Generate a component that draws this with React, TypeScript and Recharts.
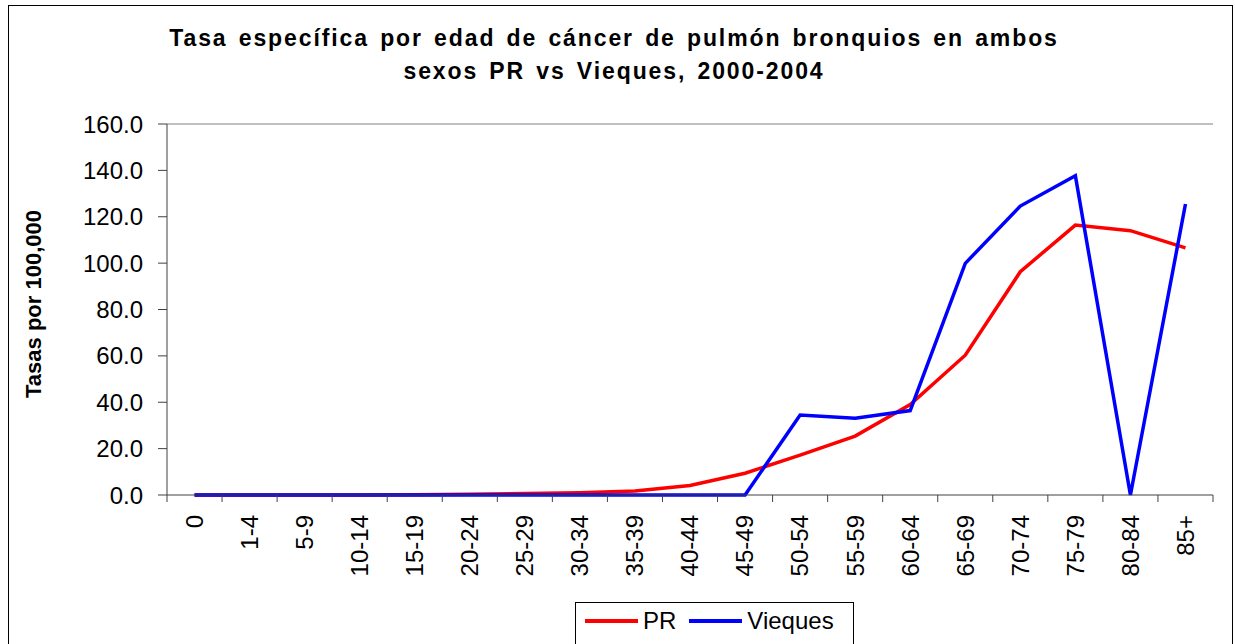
import { LineChart, Line, XAxis, YAxis, ReferenceLine, Legend } from 'recharts'

const edades = ['0', '1-4', '5-9', '10-14', '15-19', '20-24', '25-29', '30-34', '35-39', '40-44', '45-49', '50-54', '55-59', '60-64', '65-69', '70-74', '75-79', '80-84', '85+']
const tasasPR = [0.0, 0.0, 0.0, 0.0, 0.1, 0.3, 0.7, 1.0, 1.7, 4.1, 9.4, 17.2, 25.4, 39.0, 60.3, 96.3, 116.4, 114.0, 106.6]
const tasasVieques = [0.0, 0.0, 0.0, 0.0, 0.0, 0.0, 0.0, 0.0, 0.0, 0.0, 0.0, 34.5, 33.1, 36.4, 99.9, 124.6, 137.7, 0.0, 125.5]
const ticksY = [0, 20, 40, 60, 80, 100, 120, 140, 160]

const datos = edades.map((edad, i) => ({ edad, PR: tasasPR[i], Vieques: tasasVieques[i] }))

const FUENTE = '"Liberation Sans", Arial, sans-serif'
const EJE = '#404040'

function EtiquetaEdad(props: any) {
  const { x, y, payload, index, visibleTicksCount } = props
  const medio = payload.offset ?? 27.5
  const ty = y + 20
  return (
    <g>
      <line x1={x - medio} x2={x - medio} y1={y} y2={y + 7} stroke={EJE} />
      {index === visibleTicksCount - 1 && <line x1={x + medio} x2={x + medio} y1={y} y2={y + 7} stroke={EJE} />}
      <text x={x} y={ty} transform={`rotate(-90 ${x} ${ty})`} textAnchor="end" dy="0.35em" fontSize={24} fill="#000">
        {payload.value}
      </text>
    </g>
  )
}

function EtiquetaY() {
  return (
    <text x={33} y={304} transform="rotate(-90 33 304)" textAnchor="middle" dy="0.35em" fontSize={22} fontWeight="bold" fill="#000">
      Tasas por 100,000
    </text>
  )
}

function Leyenda({ payload }: any) {
  return (
    <div style={{ boxSizing: 'border-box', width: 279, height: 50, border: '1px solid #000', background: '#fff', display: 'flex', alignItems: 'flex-start', paddingLeft: 9, paddingTop: 6, fontSize: 24, lineHeight: '24px', color: '#000' }}>
      {(payload || []).map((p: any) => (
        <div key={p.value} style={{ display: 'flex', alignItems: 'center', marginRight: 13 }}>
          <span style={{ display: 'inline-block', width: 53, height: 4, background: p.color, marginRight: 5 }} />
          <span>{p.value}</span>
        </div>
      ))}
    </div>
  )
}

export default function App() {
  return (
    <div style={{ position: 'fixed', left: 0, top: 0, width: 1235, height: 700, background: '#fff', fontFamily: FUENTE }}>
      <div style={{ position: 'absolute', left: 8, top: 5, width: 1225, height: 700, boxSizing: 'border-box', border: '1px solid #000' }} />
      <div style={{ position: 'absolute', left: 8, top: 22, width: 1212, textAlign: 'center', fontSize: 23, fontWeight: 'bold', lineHeight: '33px', letterSpacing: 1.9, wordSpacing: 2.9, color: '#000' }}>
        Tasa específica por edad de cáncer de pulmón bronquios en ambos
        <br />
        sexos PR vs Vieques, 2000-2004
      </div>
      <div style={{ position: 'absolute', left: 0, top: 0 }}>
        <LineChart width={1235} height={700} data={datos} margin={{ top: 124, right: 22, left: 0, bottom: 48 }}>
          <XAxis
            dataKey="edad"
            scale="band"
            interval={0}
            height={107}
            tickSize={0}
            tickMargin={0}
            tickLine={false}
            axisLine={{ stroke: EJE }}
            tick={<EtiquetaEdad />}
          />
          <YAxis
            domain={[0, 160]}
            ticks={ticksY}
            width={167}
            tickSize={9}
            tickMargin={15}
            tickLine={{ stroke: EJE }}
            axisLine={{ stroke: EJE }}
            tick={{ fontSize: 24, fill: '#000' }}
            tickFormatter={(v) => Number(v).toFixed(1)}
            label={<EtiquetaY />}
          />
          <YAxis yAxisId="der" orientation="right" domain={[0, 160]} width={0} tick={false} tickLine={false} axisLine={{ stroke: '#808080' }} />
          <ReferenceLine y={160} stroke="#808080" />
          <Legend verticalAlign="bottom" wrapperStyle={{ left: 575, width: 279 }} content={<Leyenda />} />
          <Line type="linear" dataKey="PR" stroke="#ff0000" strokeWidth={3.5} dot={false} isAnimationActive={false} />
          <Line type="linear" dataKey="Vieques" stroke="#0000ff" strokeWidth={3.5} dot={false} isAnimationActive={false} />
        </LineChart>
      </div>
    </div>
  )
}
